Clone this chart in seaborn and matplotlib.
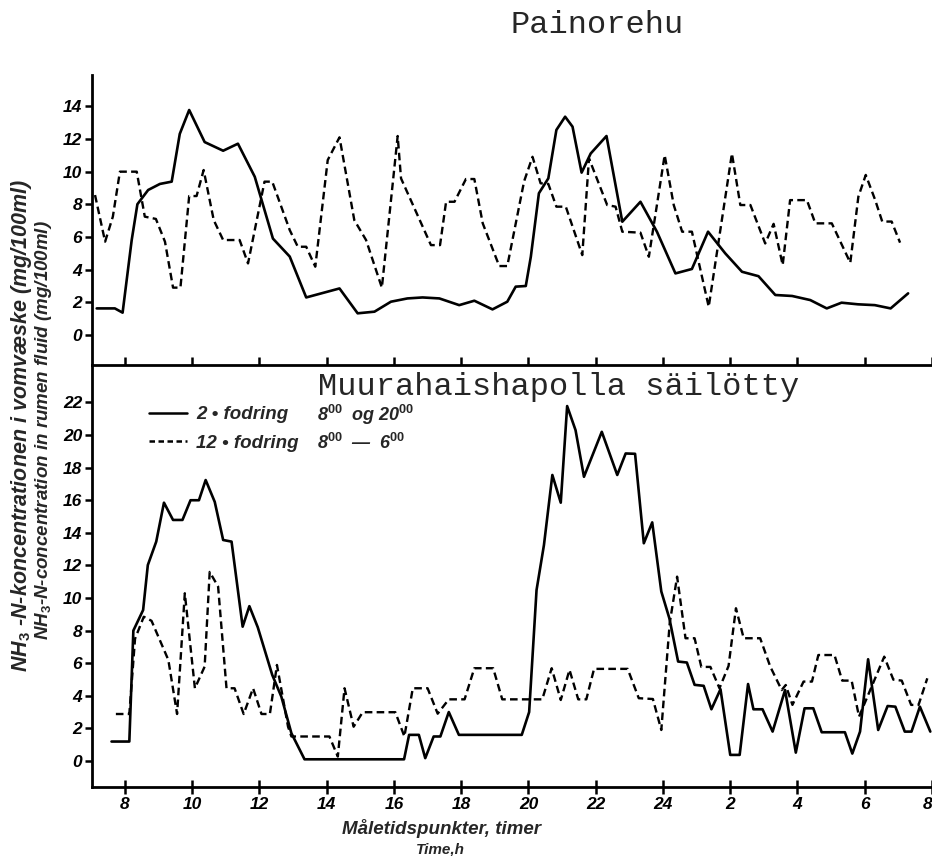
import matplotlib
matplotlib.use("Agg")
import matplotlib.pyplot as plt
import matplotlib.transforms as mtransforms
import seaborn as sns
import pandas as pd

# ---------------- data (hours from 8 h day 1; 24+ = next day) ----------------
top_solid_t = [7.16, 7.70, 7.93, 8.20, 8.37, 8.69, 9.04, 9.39, 9.63, 9.91, 10.37, 10.92, 11.36, 11.86,
               12.40, 12.90, 13.39, 14.38, 14.92, 15.42, 15.91, 16.40, 16.85, 17.35, 17.94, 18.39, 18.93,
               19.37, 19.62, 19.92, 20.07, 20.31, 20.59, 20.83, 21.09, 21.31, 21.58, 21.85, 22.32, 22.79,
               23.33, 23.82, 24.37, 24.86, 25.34, 25.85, 26.35, 26.84, 27.34, 27.84, 28.38, 28.87, 29.31,
               29.80, 30.30, 30.77, 31.29]
top_solid_v = [1.63, 1.63, 1.37, 5.8, 8.0, 8.87, 9.24, 9.38, 12.3, 13.76, 11.8, 11.27, 11.7, 9.68,
               5.9, 4.8, 2.3, 2.85, 1.33, 1.43, 2.04, 2.24, 2.3, 2.24, 1.83, 2.1, 1.57,
               2.04, 2.96, 3.0, 4.79, 8.67, 9.58, 12.54, 13.35, 12.74, 9.93, 11.1, 12.17, 6.93,
               8.15, 6.32, 3.77, 4.04, 6.32, 5.0, 3.87, 3.6, 2.45, 2.39, 2.14, 1.63, 1.98,
               1.88, 1.83, 1.63, 2.55]

top_dash_t = [7.11, 7.41, 7.64, 7.85, 8.35, 8.59, 8.92, 9.19, 9.43, 9.65, 9.91, 10.13, 10.34, 10.64,
              10.92, 11.41, 11.66, 12.15, 12.38, 12.90, 13.14, 13.39, 13.66, 14.03, 14.38, 14.82, 15.17,
              15.64, 16.11, 16.21, 17.10, 17.37, 17.55, 17.80, 18.14, 18.39, 18.64, 19.13, 19.37, 19.87,
              20.12, 20.36, 20.59, 20.83, 21.11, 21.60, 21.80, 22.34, 22.59, 22.79, 23.33, 23.58, 24.05,
              24.32, 24.57, 24.86, 25.36, 26.05, 26.30, 26.60, 27.04, 27.29, 27.56, 27.78, 28.28, 28.53,
              29.02, 29.57, 29.81, 30.03, 30.31, 30.52, 30.80, 31.05]
top_dash_v = [8.56, 5.71, 7.24, 9.99, 9.99, 7.24, 7.1, 5.71, 2.9, 2.9, 8.5, 8.5, 10.09, 7.03,
              5.81, 5.81, 4.38, 9.38, 9.38, 6.42, 5.4, 5.4, 4.18, 10.7, 12.09, 7.03, 5.81,
              2.9, 12.17, 9.58, 5.5, 5.5, 8.15, 8.15, 9.54, 9.54, 6.83, 4.22, 4.22, 9.4,
              10.9, 9.28, 9.24, 7.85, 7.85, 4.89, 10.8, 7.95, 7.85, 6.32, 6.26, 4.79, 11.0,
              7.95, 6.32, 6.32, 1.73, 11.1, 7.95, 7.95, 5.6, 6.8, 4.28, 8.25, 8.25, 6.83,
              6.83, 4.42, 8.46, 9.79, 8.26, 6.94, 6.94, 5.65]

bot_solid_t = [7.60, 8.13, 8.25, 8.54, 8.68, 8.93, 9.16, 9.43, 9.71, 9.95, 10.20, 10.40, 10.67, 10.92,
               11.17, 11.50, 11.70, 11.95, 12.38, 12.65, 12.95, 13.34, 16.30, 16.45, 16.74, 16.93, 17.18,
               17.38, 17.63, 17.93, 19.80, 20.02, 20.24, 20.46, 20.71, 20.96, 21.15, 21.40, 21.65, 22.18,
               22.64, 22.89, 23.17, 23.43, 23.68, 23.95, 24.19, 24.45, 24.71, 24.94, 25.21, 25.44, 25.71,
               26.00, 26.28, 26.53, 26.69, 26.96, 27.26, 27.63, 27.95, 28.21, 28.47, 28.72, 29.41, 29.63,
               29.86, 30.10, 30.40, 30.68, 30.91, 31.19, 31.39, 31.64, 31.95]
bot_solid_v = [1.19, 1.19, 8.0, 9.26, 12.02, 13.46, 15.85, 14.79, 14.79, 16.0, 16.0, 17.24, 15.9, 13.56,
               13.46, 8.24, 9.5, 8.2, 5.28, 3.95, 1.7, 0.1, 0.1, 1.6, 1.6, 0.17, 1.5,
               1.5, 3.0, 1.6, 1.6, 3.0, 10.49, 13.25, 17.55, 15.85, 21.78, 20.3, 17.44, 20.2,
               17.55, 18.87, 18.85, 13.36, 14.64, 10.4, 8.75, 6.1, 6.04, 4.67, 4.61, 3.17, 4.4,
               0.37, 0.37, 4.72, 3.17, 3.17, 1.8, 4.35, 0.51, 3.23, 3.23, 1.76, 1.76, 0.45,
               1.8, 6.24, 1.9, 3.37, 3.33, 1.8, 1.8, 3.33, 1.8]

bot_dash_t = [7.73, 8.13, 8.30, 8.56, 8.79, 9.29, 9.55, 9.78, 10.08, 10.37, 10.52, 10.77, 11.02, 11.26,
              11.53, 11.81, 12.06, 12.31, 12.52, 12.85, 12.95, 14.08, 14.33, 14.53, 14.80, 15.07, 16.04,
              16.31, 16.56, 17.00, 17.30, 17.63, 18.10, 18.39, 18.95, 19.22, 20.41, 20.69, 20.96, 21.22,
              21.48, 21.72, 21.95, 22.95, 23.28, 23.70, 23.95, 24.20, 24.42, 24.67, 24.94, 25.14, 25.41,
              25.68, 25.95, 26.17, 26.40, 26.89, 27.19, 27.53, 27.65, 27.85, 28.18, 28.43, 28.62, 29.10,
              29.33, 29.61, 29.83, 30.58, 30.85, 31.10, 31.38, 31.60, 31.86]
bot_dash_v = [2.88, 2.88, 7.5, 8.85, 8.6, 6.2, 2.88, 10.29, 4.46, 5.79, 11.6, 10.7, 4.46, 4.46,
              2.88, 4.46, 2.88, 2.88, 5.89, 2.1, 1.5, 1.5, 0.27, 4.46, 2.1, 2.99, 2.99,
              1.5, 4.46, 4.46, 2.9, 3.78, 3.78, 5.69, 5.69, 3.78, 3.78, 5.69, 3.74, 5.59,
              3.78, 3.78, 5.65, 5.65, 3.85, 3.8, 1.9, 8.45, 11.31, 7.53, 7.53, 5.77, 5.77,
              4.46, 5.83, 9.37, 7.53, 7.53, 5.79, 4.35, 4.66, 3.44, 4.87, 4.87, 6.5, 6.5,
              4.93, 4.93, 2.72, 6.4, 4.99, 4.93, 3.44, 3.44, 5.07]

x_ticks = [8, 10, 12, 14, 16, 18, 20, 22, 24, 26, 28, 30, 32]
x_ticklabels = ["8", "10", "12", "14", "16", "18", "20", "22", "24", "2", "4", "6", "8"]
top_yticks = [0, 2, 4, 6, 8, 10, 12, 14]
bot_yticks = [0, 2, 4, 6, 8, 10, 12, 14, 16, 18, 20, 22]

series_labels = ["2 \u2022 fodring", "12 \u2022 fodring"]
legend_times = ["8$^{00}$  og 20$^{00}$", "8$^{00}$  \u2014  6$^{00}$"]
title_top = "Painorehu"
title_bottom = "Muurahaishapolla s\u00e4il\u00f6tty"
ylabel1 = "NH$_3$ -N-koncentrationen i vomv\u00e6ske (mg/100ml)"
ylabel2 = "NH$_3$-N-concentration in rumen fluid (mg/100ml)"
xlabel1 = "M\u00e5letidspunkter, timer"
xlabel2 = "Time,h"

# ---------------- style ----------------
sns.set_style("white")
plt.rcParams["font.family"] = ["Liberation Sans", "DejaVu Sans"]
plt.rcParams["mathtext.fontset"] = "custom"
plt.rcParams["mathtext.it"] = "Liberation Sans:italic:bold"
plt.rcParams["mathtext.rm"] = "Liberation Sans:bold"

W, H = 932, 856
fig = plt.figure(figsize=(W / 100, H / 100), dpi=100)
L, R = 92, 932
ax1 = fig.add_axes([L / W, 1 - 365 / H, (R - L) / W, (365 - 75) / H])
ax2 = fig.add_axes([L / W, 1 - 787 / H, (R - L) / W, (787 - 365) / H])
ax2.patch.set_alpha(0)

LW = 1.9
DASH = (3.2, 1.8)

def draw(ax, t_s, v_s, t_d, v_d):
    ds = pd.DataFrame({"t": t_s, "v": v_s})
    dd = pd.DataFrame({"t": t_d, "v": v_d})
    sns.lineplot(data=ds, x="t", y="v", ax=ax, color="black", lw=LW, sort=False,
                 estimator=None, label=series_labels[0])
    sns.lineplot(data=dd, x="t", y="v", ax=ax, color="black", lw=LW * 0.9, sort=False,
                 estimator=None, label=series_labels[1], dashes=False)
    ax.lines[-1].set_dashes(DASH)

draw(ax1, top_solid_t, top_solid_v, top_dash_t, top_dash_v)
draw(ax2, bot_solid_t, bot_solid_v, bot_dash_t, bot_dash_v)

tick_font = dict(family="Liberation Sans", style="italic", weight="bold", size=12.5)
for ax in (ax1, ax2):
    ax.set_xlim(7.02, 31.95)
    ax.set_xlabel("")
    ax.set_ylabel("")
    for s in ("top", "right"):
        ax.spines[s].set_visible(False)
    for s in ("left", "bottom"):
        ax.spines[s].set_linewidth(2.0)
        ax.spines[s].set_color("black")
    ax.set_xticks(x_ticks)
    ax.tick_params(axis="y", left=True, direction="out", length=5, width=1.8,
                   colors="black", pad=2)

ax1.set_ylim(-1.83, 15.9)
ax2.set_ylim(-1.6, 24.3)
ax1.set_yticks(top_yticks)
ax2.set_yticks(bot_yticks)
ax1.set_yticklabels([str(v) for v in top_yticks], fontdict=tick_font)
ax2.set_yticklabels([str(v) for v in bot_yticks], fontdict=tick_font)
ax1.tick_params(axis="x", bottom=True, direction="in", length=6, width=1.8, labelbottom=False,
                colors="black")
ax2.tick_params(axis="x", bottom=True, direction="inout", length=10, width=1.8, pad=2,
                colors="black")
ax2.set_xticklabels(x_ticklabels, fontdict=tick_font)
last = ax2.get_xticklabels()[-1]
last.set_transform(last.get_transform() + mtransforms.ScaledTranslation(-4 / 100, 0, fig.dpi_scale_trans))

ax1.get_legend().remove()
leg = ax2.legend(loc="upper left", bbox_to_anchor=(0.057, 0.925), frameon=False,
                 handlelength=2.0, handletextpad=0.5, labelspacing=0.6, borderpad=0,
                 prop=dict(family="Liberation Sans", style="italic", weight="bold", size=13.5))
for ln in leg.get_lines():
    ln.set_linewidth(1.8)
leg.get_lines()[1].set_dashes((2.2, 1.4))
for i, txt in enumerate(legend_times):
    ax2.text((317 - L) / (R - L), (787 - (415 + 28 * i)) / (787 - 365), txt,
             transform=ax2.transAxes, ha="left", va="center",
             family="Liberation Sans", style="italic", weight="bold", size=13)

# titles
fig.text(597 / W, 1 - 25 / H, title_top, ha="center", va="center",
         family="Liberation Mono", size=23)
fig.text(559 / W, 1 - 387 / H, title_bottom, ha="center", va="center",
         family="Liberation Mono", size=23)

# axis labels
fig.text(22 / W, 1 - 425 / H, ylabel1, rotation=90, ha="center", va="center",
         family="Liberation Sans", style="italic", weight="bold", size=15.5)
fig.text(44 / W, 1 - 430 / H, ylabel2, rotation=90, ha="center", va="center",
         family="Liberation Sans", style="italic", weight="bold", size=13.5)
fig.text(442 / W, 1 - 829 / H, xlabel1, ha="center", va="center",
         family="Liberation Sans", style="italic", weight="bold", size=13.5)
fig.text(440 / W, 1 - 849 / H, xlabel2, ha="center", va="center",
         family="Liberation Sans", style="italic", weight="bold", size=11)

fig.savefig("out.png", dpi=100, facecolor="white")
